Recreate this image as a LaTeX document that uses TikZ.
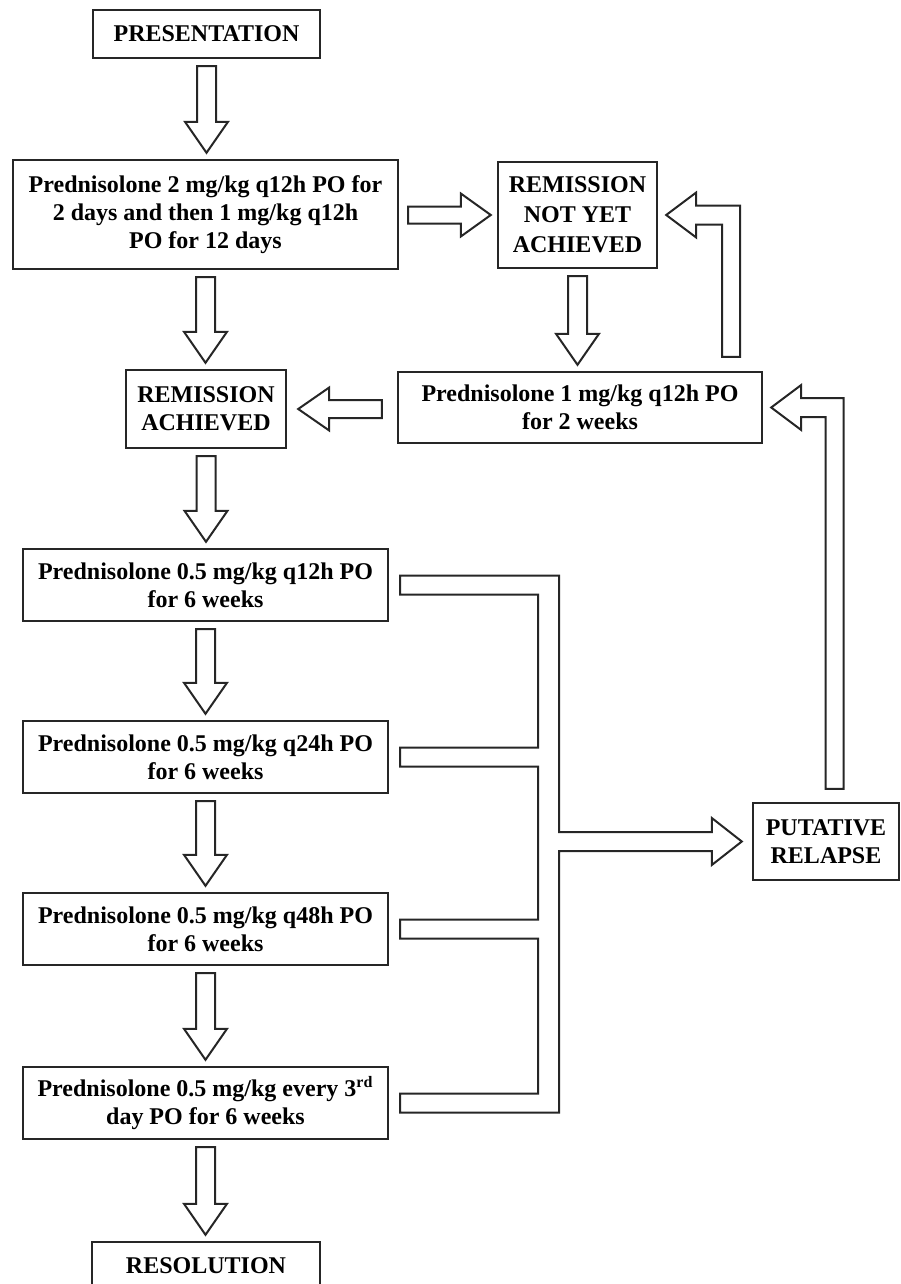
\documentclass[tikz,border=0pt]{standalone}
\usepackage{fontspec}
\setmainfont{Liberation Serif}
\usepackage{tikz}
\usetikzlibrary{calc,positioning}

\newcommand{\downblock}[2]{%
	\draw[blockarrow] let \p1=(#1.south), \p2=(#2.north) in
	(\x1-4.75pt,\y1-3.5pt) -- (\x1-4.75pt,\y2+18.5pt) -- (\x1-10.75pt,\y2+18.5pt) -- (\x1,\y2+3pt)
	-- (\x1+10.75pt,\y2+18.5pt) -- (\x1+4.75pt,\y2+18.5pt) -- (\x1+4.75pt,\y1-3.5pt) -- cycle;}
\newcommand{\rightblock}[2]{%
	\draw[blockarrow] let \p1=(#1.east), \p2=(#2.west) in
	(\x1+4.5pt,\y2+4.25pt) -- (\x2-18pt,\y2+4.25pt) -- (\x2-18pt,\y2+10.75pt) -- (\x2-3pt,\y2)
	-- (\x2-18pt,\y2-10.75pt) -- (\x2-18pt,\y2-4.25pt) -- (\x1+4.5pt,\y2-4.25pt) -- cycle;}
\newcommand{\leftblock}[2]{%
	\draw[blockarrow] let \p1=(#1.west), \p2=(#2.east) in
	(\x1-7.5pt,\y2+4.5pt) -- (\x2+21pt,\y2+4.5pt) -- (\x2+21pt,\y2+10.75pt) -- (\x2+5.5pt,\y2)
	-- (\x2+21pt,\y2-10.75pt) -- (\x2+21pt,\y2-4.5pt) -- (\x1-7.5pt,\y2-4.5pt) -- cycle;}
\newcommand{\upleftblock}[2]{%
	\draw[blockarrow] let \p1=(#1), \p2=(#2.east) in
	(\x1-4.5pt,\y1) -- (\x1-4.5pt,\y2-4.75pt) -- (\x2+19pt,\y2-4.75pt) -- (\x2+19pt,\y2-11.25pt)
	-- (\x2+4pt,\y2) -- (\x2+19pt,\y2+11.25pt) -- (\x2+19pt,\y2+4.75pt) -- (\x1+4.5pt,\y2+4.75pt)
	-- (\x1+4.5pt,\y1) -- cycle;}

\begin{document}
\begin{tikzpicture}[x=0.5pt, y=0.5pt,
		box/.style = {draw=black!85, line width=1.2pt, align=center, inner sep=2pt, font=\fontsize{12}{14}\selectfont\bfseries},
		wide/.style = {box, minimum width=182.5pt, minimum height=36pt},
		blockarrow/.style = {draw=black!85, line width=1pt, fill=white},
		node distance=48.8pt]
		
		\useasboundingbox (0,0) rectangle (900,-1284);
		
		\node[box, minimum width=113.5pt, minimum height=24pt] (pres) at (206.5,-34) {PRESENTATION};
		\node[box, minimum width=192.5pt, minimum height=54.5pt] (dose1) at (205.5,-214.5) {Prednisolone 2 mg/kg q12h PO for\\ 2 days and then 1 mg/kg q12h\\ PO for 12 days};
		\node[box, minimum width=79.5pt, minimum height=53pt, font=\fontsize{12}{15}\selectfont\bfseries] (notyet) at (577.5,-215) {REMISSION\\ NOT YET\\ ACHIEVED};
		\node[box, minimum width=182pt, minimum height=35.5pt] (dose2) at (580,-407.5) {Prednisolone 1 mg/kg q12h PO\\ for 2 weeks};
		\node[box, minimum width=80pt, minimum height=39pt] (achieved) at (206,-409) {REMISSION\\ ACHIEVED};
		
		\node[wide] (taper1) at (205.5,-585) {Prednisolone 0.5 mg/kg q12h PO\\ for 6 weeks};
		\node[wide, below=of taper1] (taper2) {Prednisolone 0.5 mg/kg q24h PO\\ for 6 weeks};
		\node[wide, below=of taper2] (taper3) {Prednisolone 0.5 mg/kg q48h PO\\ for 6 weeks};
		\node[wide, below=49.8pt of taper3] (taper4) {Prednisolone 0.5 mg/kg every 3\textsuperscript{rd}\\ day PO for 6 weeks};
		
		\node[box, minimum width=114pt, minimum height=24pt] (resolution) at (206,-1266) {RESOLUTION};
		\node[box, minimum width=73pt, minimum height=38.5pt] (relapse) at (826,-841.5) {PUTATIVE\\ RELAPSE};
		
		\downblock{pres}{dose1}
		\downblock{dose1}{achieved}
		\downblock{notyet}{dose2}
		\downblock{achieved}{taper1}
		\foreach \a/\b in {taper1/taper2, taper2/taper3, taper3/taper4, taper4/resolution}
		\downblock{\a}{\b};
		
		\rightblock{dose1}{notyet}
		\leftblock{dose2}{achieved}
		\upleftblock{$(dose2.north east)+(-32,14)$}{notyet}
		\upleftblock{$(relapse.north)+(8.5,13)$}{dose2}
		
		\draw[blockarrow] let \p1=(taper1.east), \p2=(taper2.east), \p3=(taper3.east), \p4=(taper4.east), \p5=(relapse.west) in
		(\x1+5.5pt,\y1+4.75pt) -- (\x1+85pt,\y1+4.75pt) -- (\x1+85pt,\y5+4.75pt) -- (\x5-20pt,\y5+4.75pt)
		-- (\x5-20pt,\y5+11.75pt) -- (\x5-5pt,\y5) -- (\x5-20pt,\y5-11.75pt) -- (\x5-20pt,\y5-4.75pt)
		-- (\x1+85pt,\y5-4.75pt) -- (\x1+85pt,\y4-4.75pt) -- (\x4+5.5pt,\y4-4.75pt) -- (\x4+5.5pt,\y4+4.75pt)
		-- (\x1+74.5pt,\y4+4.75pt) -- (\x1+74.5pt,\y3-4.75pt) -- (\x3+5.5pt,\y3-4.75pt) -- (\x3+5.5pt,\y3+4.75pt)
		-- (\x1+74.5pt,\y3+4.75pt) -- (\x1+74.5pt,\y2-4.75pt) -- (\x2+5.5pt,\y2-4.75pt) -- (\x2+5.5pt,\y2+4.75pt)
		-- (\x1+74.5pt,\y2+4.75pt) -- (\x1+74.5pt,\y1-4.75pt) -- (\x1+5.5pt,\y1-4.75pt) -- cycle;
		
	\end{tikzpicture}
\end{document}
